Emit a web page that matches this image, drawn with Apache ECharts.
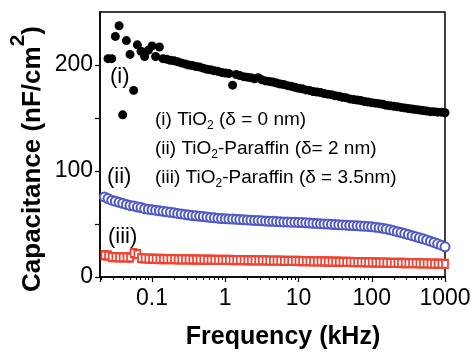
<!DOCTYPE html>
<html>
<head>
<meta charset="utf-8">
<script src="https://cdn.jsdelivr.net/npm/echarts@6/dist/echarts.min.js"></script>
<style>
  html, body { margin: 0; padding: 0; background: #fff; }
  #chart { width: 474px; height: 352px; }
</style>
</head>
<body>
<div id="chart"></div>
<script>
// frequency grid (kHz), 20 points per decade
const freq = [
  0.0224, 0.0251, 0.0282, 0.0316, 0.0355, 0.0398, 0.0447, 0.0501, 0.0562, 0.0631, 0.0708, 0.0794, 0.0891,
  0.1, 0.112, 0.126, 0.141, 0.158, 0.178, 0.2, 0.224, 0.251, 0.282, 0.316, 0.355, 0.398, 0.447, 0.501, 0.562, 0.631, 0.708, 0.794, 0.891,
  1, 1.12, 1.26, 1.41, 1.58, 1.78, 2, 2.24, 2.51, 2.82, 3.16, 3.55, 3.98, 4.47, 5.01, 5.62, 6.31, 7.08, 7.94, 8.91,
  10, 11.2, 12.6, 14.1, 15.8, 17.8, 20, 22.4, 25.1, 28.2, 31.6, 35.5, 39.8, 44.7, 50.1, 56.2, 63.1, 70.8, 79.4, 89.1,
  100, 112, 126, 141, 158, 178, 200, 224, 251, 282, 316, 355, 398, 447, 501, 562, 631, 708, 794, 891,
  1000
];

// (i) TiO2
const capTiO2 = [
  null, 206, 206, 227, 237, 153, 223, 210, 176, 219, 213, 208, 214,
  218, 208, 217, 206, 205.5, 204.5, 204, 203, 202, 201, 200, 199.5, 198.5, 198, 197, 196, 195.5, 194.5, 194, 193,
  192.5, 192, 181, 191, 190, 189, 188.5, 188, 187, 188, 186, 185, 184.5, 184, 183, 182, 181.5, 180.5, 180, 179,
  178, 177.5, 176.5, 176, 175, 174.5, 174, 173, 172.5, 172, 171, 170.5, 169.5, 169, 168, 167.5, 167, 166.5, 165.5, 165,
  164.5, 164, 163.5, 163, 162, 161.5, 161, 160.5, 160, 159.5, 159, 158.5, 158, 157.5, 157, 156.5, 156, 156, 155.5, 155.5,
  155
];

// (ii) TiO2-Paraffin, 2 nm
const capPar2 = [
  75.5, 74, 72.5, 71.5, 70.5, 69.5, 68.5, 67.5, 67, 66, 65.5, 64.5, 64,
  63.5, 63, 62.5, 62, 61.5, 61, 60.5, 60, 59.5, 59, 58.5, 58, 57.7, 57.3, 57, 56.6, 56.2, 55.8, 55.5, 55.2,
  55, 54.8, 54.6, 54.4, 54.2, 54, 53.8, 53.6, 53.4, 53.2, 53, 52.8, 52.6, 52.5, 52.3, 52.2, 52, 51.9, 51.7, 51.6,
  51.5, 51.3, 51.1, 50.9, 50.7, 50.5, 50.3, 50.1, 49.9, 49.7, 49.5, 49.3, 49.1, 48.9, 48.7, 48.5, 48.3, 48.1, 47.9, 47.7,
  47.4, 47, 46.5, 46, 45.3, 44.5, 43.7, 42.8, 41.9, 41, 40, 39, 38, 37, 36, 35, 33.8, 32.6, 31.3, 30,
  28.5
];

// (iii) TiO2-Paraffin, 3.5 nm
const capPar35 = [
  20.5, 20.3, 18.8, 18.7, 18.6, 18.5, 18.5, 18.4, 22.5, 21.5, 17.8, 17.5, 17.3,
  17.2, 17.1, 17.0, 17.0, 16.9, 16.8, 16.8, 16.7, 16.7, 16.6, 16.6, 16.5, 16.5, 16.4, 16.4, 16.3, 16.3, 16.2, 16.2, 16.2,
  16.1, 16.1, 16.0, 16.0, 15.9, 15.9, 15.8, 15.8, 15.7, 15.7, 15.6, 15.6, 15.5, 15.5, 15.4, 15.4, 15.3, 15.3, 15.2, 15.2,
  15.1, 15.0, 15.0, 14.9, 14.8, 14.8, 14.7, 14.6, 14.6, 14.5, 14.4, 14.4, 14.3, 14.2, 14.2, 14.1, 14.0, 14.0, 13.9, 13.8,
  13.8, 13.7, 13.6, 13.6, 13.5, 13.4, 13.4, 13.3, 13.2, 13.2, 13.1, 13.0, 13.0, 12.9, 12.8, 12.8, 12.7, 12.6, 12.5, 12.4,
  12.3
];

const yTicks = [0, 50, 100, 150, 200];
const yLabels = [0, 100, 200];
const xTitle = 'Frequency (kHz)';
const yTitle = 'Capacitance (nF/cm{sup|2})';
const legendLines = [
  '(i) TiO{s|2} (δ = 0 nm)',
  '(ii) TiO{s|2}-Paraffin (δ= 2 nm)',
  '(iii) TiO{s|2}-Paraffin (δ = 3.5nm)'
];
const curveTags = ['(i)', '(ii)', '(iii)'];

const FONT = '"Liberation Sans", Arial, sans-serif';
const chart = echarts.init(document.getElementById('chart'));

const pair = arr => freq.map((f, i) => [f, arr[i]]);

const tagPos = [[110, 66], [107, 166], [108, 226]];

chart.setOption({
  animation: false,
  backgroundColor: '#fff',
  grid: {
    left: 100, right: 29, top: 12, bottom: 75,
    show: true, borderColor: '#000', borderWidth: 1.5, backgroundColor: 'transparent'
  },
  xAxis: {
    type: 'log',
    min: 0.0195,
    max: 1000,
    axisLine: { show: true, lineStyle: { color: '#000', width: 1.5 } },
    axisTick: { inside: false, length: 5, lineStyle: { color: '#000', width: 1.2 } },
    minorTick: { show: true, splitNumber: 9, length: 3, lineStyle: { color: '#000', width: 1 } },
    splitLine: { show: false },
    minorSplitLine: { show: false },
    axisLabel: {
      fontFamily: FONT, fontSize: 23, color: '#000', margin: 10,
      showMinLabel: false,
      formatter: v => String(+v.toPrecision(3))
    }
  },
  yAxis: {
    type: 'value',
    min: 0,
    max: 250,
    axisLine: { show: true, lineStyle: { color: '#000', width: 1.5 } },
    axisTick: { show: true, length: 5, customValues: yTicks, lineStyle: { color: '#000', width: 1.2 } },
    splitLine: { show: false },
    axisLabel: { fontFamily: FONT, fontSize: 23, color: '#000', margin: 7, customValues: yLabels }
  },
  series: [
    {
      name: '(i)', type: 'scatter', data: pair(capTiO2),
      symbol: 'circle', symbolSize: 9,
      itemStyle: { color: '#000', opacity: 1 }
    },
    {
      name: '(ii)', type: 'scatter', data: pair(capPar2),
      symbol: 'emptyCircle', symbolSize: 9,
      itemStyle: { color: '#5058c4', borderColor: '#5058c4', borderWidth: 1, opacity: 1 }
    },
    {
      name: '(iii)', type: 'scatter', data: pair(capPar35),
      symbol: 'emptyRect', symbolSize: [6, 8],
      itemStyle: { color: '#ee4433', borderColor: '#ee4433', borderWidth: 1, opacity: 1 }
    }
  ],
  graphic: [
    {
      type: 'text', x: 283, y: 337,
      style: {
        text: xTitle, fontFamily: FONT, fontSize: 25, fontWeight: 'bold', fill: '#000',
        align: 'center', verticalAlign: 'middle'
      }
    },
    {
      type: 'text', x: 33, y: 159, rotation: Math.PI / 2,
      style: {
        text: yTitle, fontFamily: FONT, fontSize: 26, fontWeight: 'bold', fill: '#000',
        align: 'center', verticalAlign: 'middle',
        rich: { sup: { fontFamily: FONT, fontSize: 21, fontWeight: 'bold', fill: '#000', padding: [0, 0, 30, 0] } }
      }
    },
    ...legendLines.map((t, i) => ({
      type: 'text', left: 155, top: 110 + i * 29,
      style: {
        text: t, fontFamily: FONT, fontSize: 19, fill: '#000',
        rich: { s: { fontFamily: FONT, fontSize: 12, fill: '#000', padding: [12, 0, 0, 0] } }
      }
    })),
    ...curveTags.map((t, i) => ({
      type: 'text', left: tagPos[i][0], top: tagPos[i][1],
      style: { text: t, fontFamily: FONT, fontSize: 22, fill: '#000' }
    }))
  ]
});
</script>
</body>
</html>
